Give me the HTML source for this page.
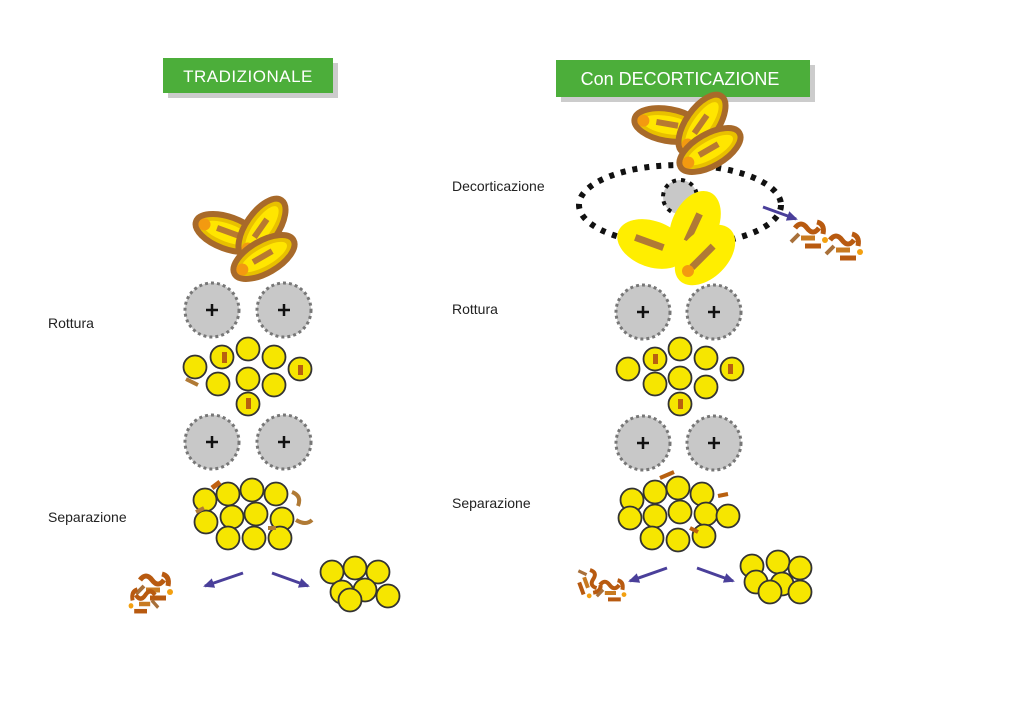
<!DOCTYPE html>
<html><head><meta charset="utf-8"><style>
body{margin:0;background:#fff;width:1024px;height:706px;overflow:hidden}
svg{display:block}
text{font-family:"Liberation Sans",sans-serif}
</style></head><body>
<svg width="1024" height="706" viewBox="0 0 1024 706">
<defs>
<g id="gear"><circle r="27" fill="#c8c8c8" stroke="#777" stroke-width="3" stroke-dasharray="3 3"/><circle r="24" fill="#c8c8c8"/><path d="M-6 0H6M0 -6V6" stroke="#111" stroke-width="2.5"/></g>
<g id="ball"><circle r="11.5" fill="#f6e600" stroke="#333" stroke-width="1.8"/></g>
<g id="grain"><ellipse rx="34" ry="16" fill="#e8c000" stroke="#a86a2a" stroke-width="6"/><ellipse rx="26" ry="9" fill="#ffe600"/><rect x="-12" y="-4" width="22" height="6" fill="#b87a30"/><circle cx="-25" cy="0" r="6" fill="#f39a10"/></g>
<g id="ygrain"><ellipse rx="36" ry="23" fill="#ffee00"/><rect x="-18" y="-4" width="30" height="7" fill="#b07a35"/></g>
<g id="bran"><path d="M0 0q6-8 12 0t12 0" stroke="#b85a10" stroke-width="5" fill="none"/><path d="M6 10h14" stroke="#c87a20" stroke-width="5"/><path d="M-4 14l8 -8" stroke="#a8703a" stroke-width="4"/><path d="M22 -6q8 2 6 12" stroke="#b85a10" stroke-width="5" fill="none"/><circle cx="30" cy="12" r="3" fill="#f3a010"/><path d="M10 18h16" stroke="#b85a10" stroke-width="5"/></g>
<marker id="ah" markerUnits="userSpaceOnUse" markerWidth="11" markerHeight="10" refX="9" refY="5" orient="auto"><path d="M0 0L11 5L0 10z" fill="#4a3f9a"/></marker>
</defs>
<rect x="168" y="63" width="170" height="35" fill="#999" opacity=".5"/>
<rect x="163" y="58" width="170" height="35" fill="#4cae3a"/>
<text x="248" y="82" fill="#fff" font-size="17" text-anchor="middle" letter-spacing="0.5">TRADIZIONALE</text>
<rect x="561" y="65" width="254" height="37" fill="#999" opacity=".5"/>
<rect x="556" y="60" width="254" height="37" fill="#4cae3a"/>
<text x="680" y="85" fill="#fff" font-size="18" text-anchor="middle">Con DECORTICAZIONE</text>
<g font-size="14" fill="#222">
<text x="48" y="328">Rottura</text><text x="48" y="522">Separazione</text>
<text x="452" y="191">Decorticazione</text><text x="452" y="314">Rottura</text><text x="452" y="508">Separazione</text>
</g>
<use href="#grain" transform="translate(228,233) rotate(20)"/>
<use href="#grain" transform="translate(262,228) rotate(-55)"/>
<use href="#grain" transform="translate(264,257) rotate(-30)"/>
<use href="#gear" x="212" y="310"/><use href="#gear" x="284" y="310"/>
<use href="#gear" x="212" y="442"/><use href="#gear" x="284" y="442"/>
<g>
<use href="#ball" x="195" y="367"/><use href="#ball" x="222" y="357"/><use href="#ball" x="248" y="349"/><use href="#ball" x="274" y="357"/><use href="#ball" x="300" y="369"/><use href="#ball" x="218" y="384"/><use href="#ball" x="248" y="379"/><use href="#ball" x="274" y="385"/><use href="#ball" x="248" y="404"/>
<rect x="222" y="352" width="5" height="11" fill="#b86010"/><rect x="298" y="365" width="5" height="10" fill="#b86010"/><rect x="246" y="398" width="5" height="11" fill="#b86010"/><path d="M186 379l12 6" stroke="#b07a35" stroke-width="4"/>
</g>
<g>
<use href="#ball" x="205" y="500"/><use href="#ball" x="228" y="494"/><use href="#ball" x="252" y="490"/><use href="#ball" x="276" y="494"/><use href="#ball" x="206" y="522"/><use href="#ball" x="232" y="517"/><use href="#ball" x="256" y="514"/><use href="#ball" x="282" y="519"/><use href="#ball" x="228" y="538"/><use href="#ball" x="254" y="538"/><use href="#ball" x="280" y="538"/>
<path d="M292 492q10 4 6 14M296 520q10 6 16 0M196 512l8 -4M268 528h8" stroke="#b07a35" stroke-width="4" fill="none"/><path d="M212 488l8-6" stroke="#c06010" stroke-width="5"/>
</g>
<use href="#bran" transform="translate(140,580)"/><use href="#bran" transform="translate(155,595) scale(-0.8,0.9)"/>
<g><use href="#ball" x="332" y="572"/><use href="#ball" x="355" y="568"/><use href="#ball" x="378" y="572"/><use href="#ball" x="342" y="592"/><use href="#ball" x="365" y="590"/><use href="#ball" x="388" y="596"/><use href="#ball" x="350" y="600"/></g>
<line x1="243" y1="573" x2="205" y2="586" stroke="#4a3f9a" stroke-width="3" marker-end="url(#ah)"/>
<line x1="272" y1="573" x2="308" y2="586" stroke="#4a3f9a" stroke-width="3" marker-end="url(#ah)"/>
<ellipse cx="680" cy="205" rx="101" ry="40" fill="none" stroke="#111" stroke-width="6" stroke-dasharray="5 7"/>
<circle cx="680" cy="197" r="17" fill="#c8c8c8" stroke="#111" stroke-width="4" stroke-dasharray="4 5"/>
<use href="#grain" transform="translate(668,125) rotate(10)"/>
<use href="#grain" transform="translate(702,124) rotate(-55)"/>
<use href="#grain" transform="translate(710,150) rotate(-30)"/>
<use href="#ygrain" transform="translate(652,244) rotate(20)"/>
<use href="#ygrain" transform="translate(695,225) rotate(-65)"/>
<use href="#ygrain" transform="translate(705,255) rotate(-45)"/>
<circle cx="688" cy="271" r="6" fill="#f39a10"/>
<use href="#bran" transform="translate(795,228)"/><use href="#bran" transform="translate(830,240)"/>
<line x1="763" y1="207" x2="796" y2="219" stroke="#4a3f9a" stroke-width="3" marker-end="url(#ah)"/>
<use href="#gear" x="643" y="312"/><use href="#gear" x="714" y="312"/>
<use href="#gear" x="643" y="443"/><use href="#gear" x="714" y="443"/>
<g>
<use href="#ball" x="628" y="369"/><use href="#ball" x="655" y="359"/><use href="#ball" x="680" y="349"/><use href="#ball" x="706" y="358"/><use href="#ball" x="732" y="369"/><use href="#ball" x="655" y="384"/><use href="#ball" x="680" y="378"/><use href="#ball" x="706" y="387"/><use href="#ball" x="680" y="404"/>
<rect x="653" y="354" width="5" height="10" fill="#b86010"/><rect x="728" y="364" width="5" height="10" fill="#b86010"/><rect x="678" y="399" width="5" height="10" fill="#b86010"/>
</g>
<g>
<use href="#ball" x="632" y="500"/><use href="#ball" x="655" y="492"/><use href="#ball" x="678" y="488"/><use href="#ball" x="702" y="494"/><use href="#ball" x="630" y="518"/><use href="#ball" x="655" y="516"/><use href="#ball" x="680" y="512"/><use href="#ball" x="706" y="514"/><use href="#ball" x="728" y="516"/><use href="#ball" x="652" y="538"/><use href="#ball" x="678" y="540"/><use href="#ball" x="704" y="536"/>
<path d="M660 478l14-6M718 496l10-2M690 528l8 4" stroke="#b86010" stroke-width="4"/>
</g>
<use href="#bran" transform="translate(590,570) rotate(70) scale(0.8)"/><use href="#bran" transform="translate(600,585) scale(0.8)"/>
<g><use href="#ball" x="752" y="566"/><use href="#ball" x="778" y="562"/><use href="#ball" x="800" y="568"/><use href="#ball" x="756" y="582"/><use href="#ball" x="782" y="584"/><use href="#ball" x="770" y="592"/><use href="#ball" x="800" y="592"/></g>
<line x1="667" y1="568" x2="630" y2="581" stroke="#4a3f9a" stroke-width="3" marker-end="url(#ah)"/>
<line x1="697" y1="568" x2="733" y2="581" stroke="#4a3f9a" stroke-width="3" marker-end="url(#ah)"/>
</svg>
</body></html>
